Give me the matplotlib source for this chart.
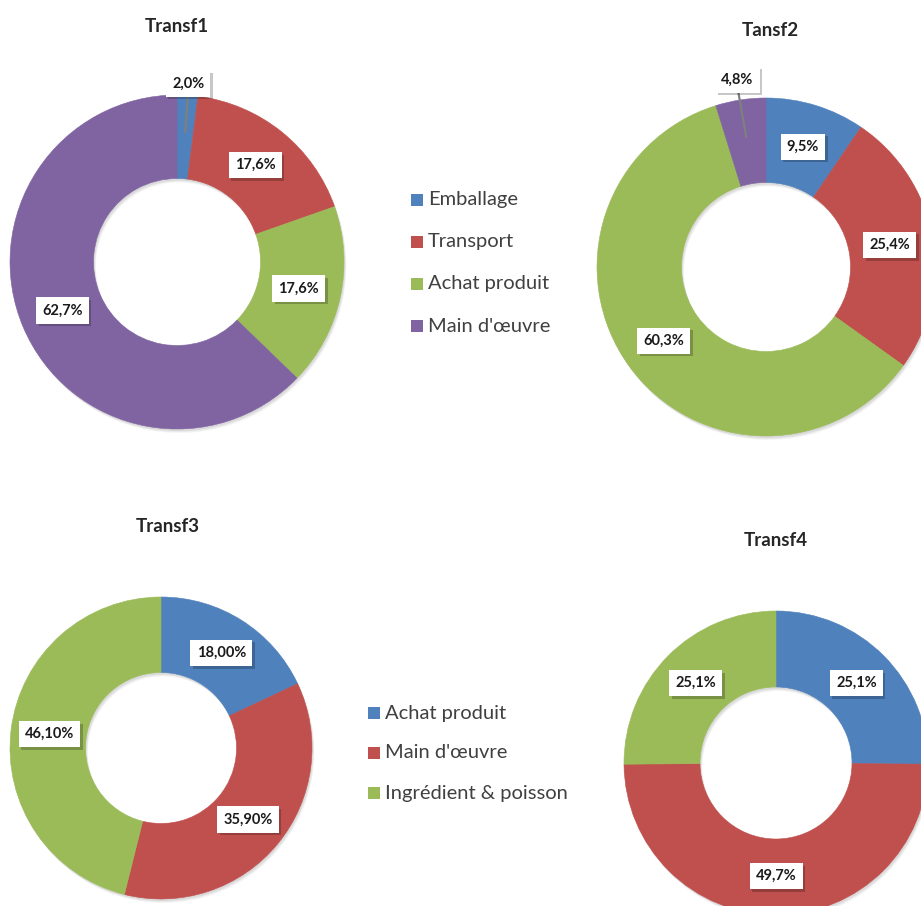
import numpy as np
import matplotlib
matplotlib.use("Agg")
import matplotlib.pyplot as plt
import matplotlib.patheffects as pe
from matplotlib.patches import Wedge

plt.rcParams['font.family'] = ['Lato', 'DejaVu Sans']

# ---- data ----
titles = ["Transf1", "Tansf2", "Transf3", "Transf4"]
cats_top = ["Emballage", "Transport", "Achat produit", "Main d'œuvre"]
cats_bottom = ["Achat produit", "Main d'œuvre", "Ingrédient & poisson"]
transf1 = [2.0, 17.6, 17.6, 62.7]
transf2 = [9.5, 25.4, 60.3, 4.8]
transf3 = [18.00, 35.90, 46.10]
transf4 = [25.1, 49.7, 25.1]

BLUE, RED, GREEN, PURPLE = "#4F81BD", "#C0504D", "#9BBB59", "#8064A2"
colors_top = [BLUE, RED, GREEN, PURPLE]
colors_bottom = [BLUE, RED, GREEN]

W, H = 921, 906
fig = plt.figure(figsize=(W / 100, H / 100), dpi=100)
ax = fig.add_axes([0, 0, 1, 1])


def py(y):
    """Convert a top-down pixel row into the y data coordinate."""
    return H - y


def fmt(v, decimals):
    return f"{v:.{decimals}f}".replace(".", ",") + "%"


label_box = dict(boxstyle="square,pad=0.42", fc="white", ec="none")
box_effects = [pe.SimplePatchShadow(offset=(1.8, -1.8), shadow_rgbFace="#000000", alpha=0.22),
               pe.Normal()]


def donut(values, colors, cx, cy, R, title, title_xy, decimals=1, outside=None):
    cy_d = py(cy)
    # soft drop shadow under the whole ring
    for off, a in ((4, 0.04), (3, 0.05), (2, 0.06)):
        ax.add_patch(Wedge((cx + off * 0.6, cy_d - off), R, 0, 360, width=R * 0.5,
                           fc="black", ec="none", alpha=a, zorder=0))
    wedges, _ = ax.pie(values, colors=colors, startangle=90, counterclock=False,
                       center=(cx, cy_d), radius=R,
                       wedgeprops=dict(width=R * 0.5, linewidth=0.4, zorder=1))
    for w, col in zip(wedges, colors):
        w.set_edgecolor(col)
    outside = outside or {}
    for i, (w, v) in enumerate(zip(wedges, values)):
        mid = np.deg2rad((w.theta1 + w.theta2) / 2)
        if i in outside:
            rl = outside[i] * R
            lx, ly = cx + rl * np.cos(mid), cy_d + rl * np.sin(mid)
            ex, ey = cx + 0.78 * R * np.cos(mid), cy_d + 0.78 * R * np.sin(mid)
            ax.plot([lx, ex], [ly - 8, ey], color="#7F7F7F", lw=1.6, zorder=3)
        else:
            rl = 0.745 * R
            lx, ly = cx + rl * np.cos(mid), cy_d + rl * np.sin(mid)
        t = ax.text(lx, ly, fmt(v, decimals), ha="center", va="center", fontsize=10.5,
                    fontweight="bold", color="#1A1A1A", bbox=label_box, zorder=5)
        t.get_bbox_patch().set_path_effects(box_effects)
    ax.text(title_xy[0], py(title_xy[1]), title, ha="center", va="center",
            fontsize=13.5, fontweight="bold", color="#262626")


donut(transf1, colors_top, 177, 262, 167, titles[0], (177, 27), outside={0: 1.07})
donut(transf2, colors_top, 766, 267, 169, titles[1], (770, 31), outside={3: 1.12})
donut(transf3, colors_bottom, 161, 748, 151, titles[2], (168, 527), decimals=2)
donut(transf4, colors_bottom, 776, 763, 152, titles[3], (776, 540))


def legend(cats, colors, x, y0, step):
    for k, (c, col) in enumerate(zip(cats, colors)):
        y = py(y0 + k * step)
        ax.scatter([x], [y], marker="s", s=75, color=col, linewidths=0, zorder=4)
        ax.text(x + 11, y, c, ha="left", va="center", fontsize=14.5, color="#404040")


legend(cats_top, colors_top, 417, 200, 42)
legend(cats_bottom, colors_bottom, 374, 713, 40)

ax.set_xlim(0, W)
ax.set_ylim(0, H)
ax.set_aspect("auto")
ax.axis("off")
fig.savefig("out.png", dpi=100, facecolor="white")
